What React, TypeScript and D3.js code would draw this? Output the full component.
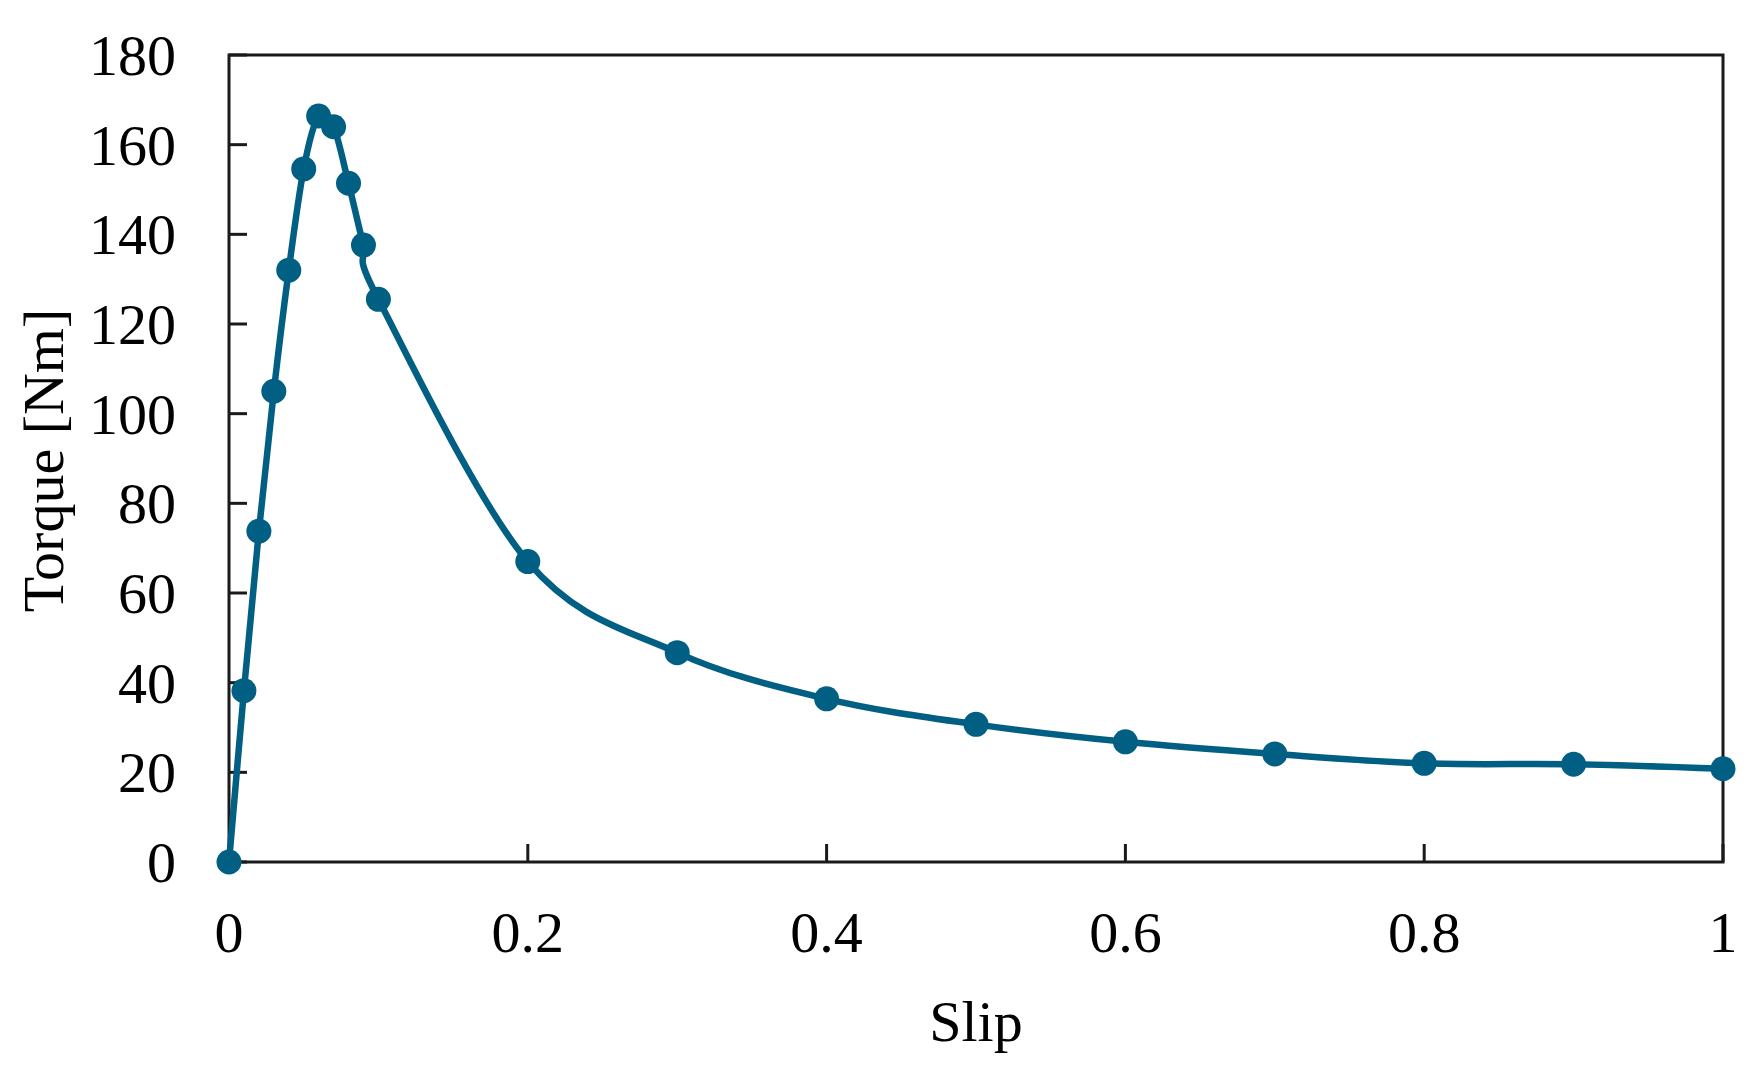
import React from "react";
import * as d3 from "d3";

const slip = [0, 0.01, 0.02, 0.03, 0.04, 0.05, 0.06, 0.07, 0.08, 0.09, 0.1, 0.2, 0.3, 0.4, 0.5, 0.6, 0.7, 0.8, 0.9, 1.0];
const torque = [0, 38.2, 73.8, 105.0, 132.0, 154.6, 166.4, 164.0, 151.4, 137.6, 125.5, 67.0, 46.7, 36.4, 30.7, 26.8, 24.1, 22.0, 21.8, 20.8];
const xTicks = [0, 0.2, 0.4, 0.6, 0.8, 1];
const xTickLabels = ["0", "0.2", "0.4", "0.6", "0.8", "1"];
const yTicks = [0, 20, 40, 60, 80, 100, 120, 140, 160, 180];

const W = 1754;
const H = 1070;
const M = { left: 229, right: 1723, top: 55, bottom: 862 };
const COLOR = "#005f83";
const FONT = "'Liberation Serif', 'Times New Roman', serif";
const FS = 58;

export default function App() {
  const x = d3.scaleLinear().domain([0, 1]).range([M.left, M.right]);
  const y = d3.scaleLinear().domain([0, 180]).range([M.bottom, M.top]);
  const pts: [number, number][] = slip.map((s, i) => [s, torque[i]]);
  const line = d3
    .line<[number, number]>()
    .x((d) => x(d[0]))
    .y((d) => y(d[1]))
    .curve(d3.curveCardinal.tension(0));
  const tickLen = 18;
  return (
    <div style={{ position: "absolute", left: 0, top: 0, width: W, height: H, background: "#fff" }}>
      <svg width={W} height={H} style={{ display: "block" }}>
        <rect x={0} y={0} width={W} height={H} fill="#fff" />
        <rect
          x={M.left}
          y={M.top}
          width={M.right - M.left}
          height={M.bottom - M.top}
          fill="none"
          stroke="#1a1a1a"
          strokeWidth={3}
        />
        {yTicks.map((t) => (
          <g key={"y" + t}>
            <line x1={M.left} x2={M.left + tickLen} y1={y(t)} y2={y(t)} stroke="#1a1a1a" strokeWidth={3} />
            <text x={176} y={y(t) + 20} textAnchor="end" fontFamily={FONT} fontSize={FS} fill="#000">
              {t}
            </text>
          </g>
        ))}
        {xTicks.map((t, i) => (
          <g key={"x" + t}>
            <line x1={x(t)} x2={x(t)} y1={M.bottom} y2={M.bottom - tickLen} stroke="#1a1a1a" strokeWidth={3} />
            <text x={x(t)} y={952} textAnchor="middle" fontFamily={FONT} fontSize={FS} fill="#000">
              {xTickLabels[i]}
            </text>
          </g>
        ))}
        <text x={(M.left + M.right) / 2} y={1041} textAnchor="middle" fontFamily={FONT} fontSize={FS} fill="#000">
          Slip
        </text>
        <text
          transform={`translate(63, ${(M.top + M.bottom) / 2 + 2}) rotate(-90)`}
          textAnchor="middle"
          fontFamily={FONT}
          fontSize={FS}
          fill="#000"
        >
          Torque [Nm]
        </text>
        <path d={line(pts) || ""} fill="none" stroke={COLOR} strokeWidth={6.5} strokeLinejoin="round" />
        {pts.map((d, i) => (
          <circle key={i} cx={x(d[0])} cy={y(d[1])} r={12.5} fill={COLOR} />
        ))}
      </svg>
    </div>
  );
}
